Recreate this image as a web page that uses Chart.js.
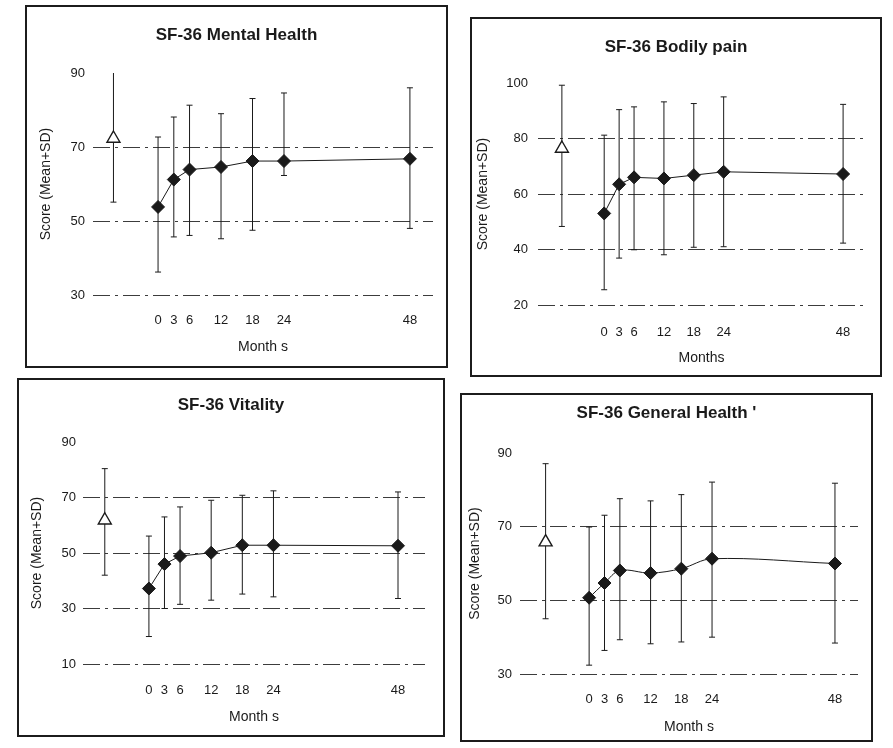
<!DOCTYPE html>
<html>
<head>
<meta charset="utf-8">
<script src="https://cdn.jsdelivr.net/npm/chart.js@4.4.0/dist/chart.umd.min.js"></script>
<style>
  html, body { margin: 0; padding: 0; background: #ffffff; }
  body { width: 893px; height: 748px; position: relative; overflow: hidden; }
  .panel { position: absolute; border: 2px solid #1c1c1c; box-sizing: border-box; background: #fff; }
  .panel canvas { display: block; }
</style>
</head>
<body>
<div class="panel" id="p1"><canvas></canvas></div>
<div class="panel" id="p2"><canvas></canvas></div>
<div class="panel" id="p3"><canvas></canvas></div>
<div class="panel" id="p4"><canvas></canvas></div>
<script>
// ---------------- data ----------------
const months = [0, 3, 6, 12, 18, 24, 48];
const baselineMonth = -8.5;   // x value where the reference (normal population) marker sits

const mentalMean  = [53.8, 61.2, 63.9, 64.6, 66.2, 66.2, 66.8];
const mentalUpper = [72.7, 78.1, 81.3, 79.0, 83.1, 84.6, 86.0];
const mentalLower = [36.2, 45.7, 46.1, 45.2, 47.5, 62.3, 48.0];

const painMean  = [53.0, 63.5, 66.0, 65.6, 66.8, 68.0, 67.2];
const painUpper = [81.2, 90.4, 91.4, 93.2, 92.6, 95.0, 92.3];
const painLower = [25.5, 36.9, 39.9, 38.1, 40.8, 41.0, 42.3];

const vitalityMean  = [37.2, 46.0, 48.9, 50.1, 52.8, 52.8, 52.6];
const vitalityUpper = [56.1, 63.0, 66.6, 69.0, 70.8, 72.4, 72.0];
const vitalityLower = [19.9, 30.0, 31.5, 33.0, 35.2, 34.2, 33.6];

const generalMean  = [50.7, 54.7, 58.1, 57.4, 58.6, 61.3, 60.0];
const generalUpper = [69.9, 73.1, 77.6, 77.0, 78.7, 82.1, 81.8];
const generalLower = [32.4, 36.4, 39.3, 38.2, 38.7, 40.0, 38.4];

// reference group (open triangle), one value per panel: Mental, Pain, Vitality, General
const baselineMean  = [72.3, 76.4, 61.8, 65.8];
const baselineUpper = [90.3, 99.2, 80.4, 87.1];
const baselineLower = [55.1, 48.3, 42.0, 45.0];

const panelTitles = ['SF-36 Mental Health', 'SF-36 Bodily pain', 'SF-36 Vitality', "SF-36 General Health '"];
const xTitles = ['Month s', 'Months', 'Month s', 'Month s'];
const yTitle = 'Score (Mean+SD)';
const yTicksMin = [30, 20, 10, 30];
const yTicksMax = [90, 100, 90, 90];
const yTickStep = 20;

// ---------------- layout (page pixels) ----------------
const layoutSpec = [
  { id: 'p1', box: [25, 5, 423, 363],  area: [93, 73, 433, 295],  tickRight: 85,  xTickY: 320, xTitleY: 347, yTitleX: 46,  titleY: 35,  xMin: -12.4, xMax: 52.4, tension: 0 },
  { id: 'p2', box: [470, 17, 412, 360], area: [538, 83, 865, 305], tickRight: 528, xTickY: 332, xTitleY: 358, yTitleX: 483, titleY: 47,  xMin: -13.3, xMax: 52.4, tension: 0 },
  { id: 'p3', box: [17, 378, 428, 359], area: [83, 442, 425, 664], tickRight: 76,  xTickY: 690, xTitleY: 717, yTitleX: 37,  titleY: 405, xMin: -12.7, xMax: 53.2, tension: 0 },
  { id: 'p4', box: [460, 393, 413, 349], area: [520, 453, 858, 674], tickRight: 512, xTickY: 699, xTitleY: 727, yTitleX: 475, titleY: 413, xMin: -13.5, xMax: 52.5, tension: 0.35 }
];

const seriesMean  = [mentalMean, painMean, vitalityMean, generalMean];
const seriesUpper = [mentalUpper, painUpper, vitalityUpper, generalUpper];
const seriesLower = [mentalLower, painLower, vitalityLower, generalLower];

const FONT = '"Liberation Sans", Arial, Helvetica, sans-serif';
const INK = '#1a1a1a';
Chart.defaults.font.family = FONT;
Chart.defaults.color = INK;

const TITLE_SIZE = 17, TICK_SIZE = 13, AXIS_TITLE_SIZE = 14, LH = 1.2;

function buildPanel(k) {
  const s = layoutSpec[k];
  const div = document.getElementById(s.id);
  div.style.left = s.box[0] + 'px';
  div.style.top = s.box[1] + 'px';
  div.style.width = s.box[2] + 'px';
  div.style.height = s.box[3] + 'px';
  const innerL = s.box[0] + 2, innerT = s.box[1] + 2;
  const cw = s.box[2] - 4, ch = s.box[3] - 4;
  const canvas = div.querySelector('canvas');
  canvas.width = cw; canvas.height = ch;
  canvas.style.width = cw + 'px'; canvas.style.height = ch + 'px';

  const L = s.area[0] - innerL, T = s.area[1] - innerT, R = s.area[2] - innerL, B = s.area[3] - innerT;
  const titleLH = TITLE_SIZE * LH, tickLH = TICK_SIZE * LH, axLH = AXIS_TITLE_SIZE * LH;
  const titlePadTop = (s.titleY - innerT) - titleLH / 2;
  const titlePadBottom = T - titlePadTop - titleLH;
  const xTickPad = (s.xTickY - innerT) - B - tickLH / 2;
  const xTitlePadBottom = ch - (s.xTitleY - innerT) - axLH / 2;
  const yTitlePadTop = (s.yTitleX - innerL) - axLH / 2;
  const yTickPad = s.area[0] - s.tickRight;

  const mean = seriesMean[k], up = seriesUpper[k], lo = seriesLower[k];

  const errData = [];
  errData.push({ x: baselineMonth, y: baselineLower[k] }, { x: baselineMonth, y: baselineUpper[k] }, { x: baselineMonth, y: null });
  months.forEach((m, i) => {
    errData.push({ x: m, y: lo[i] }, { x: m, y: up[i] }, { x: m, y: null });
  });
  const meanData = months.map((m, i) => ({ x: m, y: mean[i] }));
  const baseData = [{ x: baselineMonth, y: baselineMean[k] }];

  const yMax = yTicksMax[k];

  new Chart(canvas, {
    type: 'scatter',
    data: {
      datasets: [
        {
          label: 'Reference',
          data: baseData,
          showLine: false,
          pointStyle: 'triangle',
          pointRadius: 7.5,
          pointBackgroundColor: '#ffffff',
          pointBorderColor: INK,
          pointBorderWidth: 1.4,
          order: 1
        },
        {
          label: 'Mean',
          data: meanData,
          showLine: true,
          borderColor: INK,
          borderWidth: 1,
          tension: s.tension,
          pointStyle: 'rectRot',
          pointRadius: 6.5,
          pointBackgroundColor: INK,
          pointBorderColor: INK,
          pointBorderWidth: 1,
          order: 2
        },
        {
          label: 'SD',
          data: errData,
          showLine: true,
          spanGaps: false,
          borderColor: INK,
          borderWidth: 1,
          pointStyle: 'line',
          pointRadius: 3,
          pointBorderColor: INK,
          pointBorderWidth: 1,
          order: 3
        }
      ]
    },
    options: {
      responsive: false,
      animation: false,
      events: [],
      devicePixelRatio: 1,
      layout: { padding: { left: 0, right: 0, top: 0, bottom: 0 } },
      plugins: {
        legend: { display: false },
        tooltip: { enabled: false },
        title: {
          display: true,
          text: panelTitles[k],
          color: INK,
          font: { family: FONT, size: TITLE_SIZE, weight: 'bold', lineHeight: LH },
          padding: { top: titlePadTop, bottom: titlePadBottom }
        }
      },
      scales: {
        x: {
          type: 'linear',
          position: 'bottom',
          min: s.xMin,
          max: s.xMax,
          grid: { display: false, drawTicks: false },
          border: { display: false },
          ticks: {
            autoSkip: false,
            maxRotation: 0,
            padding: xTickPad,
            color: INK,
            font: { family: FONT, size: TICK_SIZE, lineHeight: LH },
            callback: (v) => String(v)
          },
          afterBuildTicks: (scale) => { scale.ticks = months.map(v => ({ value: v })); },
          afterFit: (scale) => { scale.height = ch - B; },
          title: {
            display: true,
            text: xTitles[k],
            color: INK,
            font: { family: FONT, size: AXIS_TITLE_SIZE, lineHeight: LH },
            padding: { top: 0, bottom: xTitlePadBottom }
          }
        },
        y: {
          type: 'linear',
          position: 'left',
          min: yTicksMin[k],
          max: yMax,
          grid: {
            drawTicks: false,
            lineWidth: 1,
            color: (c) => (c.tick && c.tick.value === yMax) ? 'rgba(0,0,0,0)' : '#3c3c3c'
          },
          border: { display: false, dash: [17, 5, 3, 5] },
          ticks: {
            stepSize: yTickStep,
            padding: yTickPad,
            color: INK,
            font: { family: FONT, size: TICK_SIZE, lineHeight: LH }
          },
          afterFit: (scale) => { scale.width = L; },
          title: {
            display: true,
            text: yTitle,
            color: INK,
            font: { family: FONT, size: AXIS_TITLE_SIZE, lineHeight: LH },
            padding: { top: yTitlePadTop, bottom: 0 }
          }
        },
        yRight: {
          type: 'linear',
          position: 'right',
          display: true,
          grid: { display: false, drawTicks: false },
          border: { display: false },
          ticks: { display: false },
          afterFit: (scale) => { scale.width = cw - R; }
        }
      }
    }
  });
}

for (let k = 0; k < 4; k++) buildPanel(k);
</script>
</body>
</html>
